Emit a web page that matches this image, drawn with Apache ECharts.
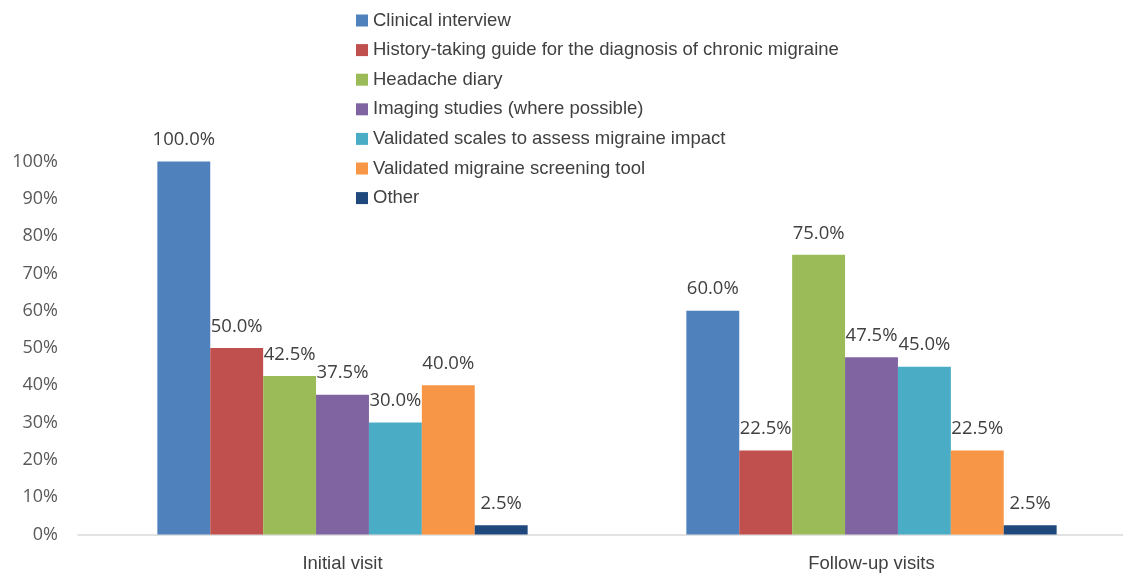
<!DOCTYPE html>
<html>
<head>
<meta charset="utf-8">
<script src="https://cdn.jsdelivr.net/npm/echarts@6/dist/echarts.min.js"></script>
<style>html,body{margin:0;padding:0;background:#fff}#c{width:1123px;height:573px}</style>
</head>
<body>
<div id="c"></div>
<script>
const categories = ['Initial visit', 'Follow-up visits'];
const seriesNames = [
  'Clinical interview',
  'History-taking guide for the diagnosis of chronic migraine',
  'Headache diary',
  'Imaging studies (where possible)',
  'Validated scales to assess migraine impact',
  'Validated migraine screening tool',
  'Other'
];
const clinicalInterview = [100.0, 60.0];
const historyGuide = [50.0, 22.5];
const headacheDiary = [42.5, 75.0];
const imagingStudies = [37.5, 47.5];
const validatedScales = [30.0, 45.0];
const screeningTool = [40.0, 22.5];
const other = [2.5, 2.5];
const yTicks = [0, 10, 20, 30, 40, 50, 60, 70, 80, 90, 100];

const values = [clinicalInterview, historyGuide, headacheDiary, imagingStudies, validatedScales, screeningTool, other];
const colors = ['#4F81BD', '#C0504D', '#9BBB59', '#8064A2', '#4BACC6', '#F79646', '#1F497D'];

const chart = echarts.init(document.getElementById('c'));
chart.setOption({
  animation: false,
  color: colors,
  legend: {
    orient: 'vertical',
    left: 351,
    top: 6,
    itemWidth: 12,
    itemHeight: 12,
    itemGap: 10.6,
    icon: 'rect',
    textStyle: { fontFamily: 'Liberation Sans', fontSize: 18.5, color: '#404040' },
    data: seriesNames
  },
  grid: { left: 78, width: 1058, top: 161.5, bottom: 38.5, containLabel: false, outerBoundsMode: 'none' },
  xAxis: {
    type: 'category',
    data: categories,
    axisLine: { lineStyle: { color: '#D9D9D9', width: 1.5 } },
    axisTick: { show: false },
    axisLabel: { fontFamily: 'Liberation Sans', fontSize: 18.5, color: '#404040', margin: 20 }
  },
  yAxis: {
    type: 'value',
    min: 0, max: 100, interval: 10,
    axisLine: { show: false },
    axisTick: { show: false },
    splitLine: { show: false },
    axisLabel: {
      fontFamily: 'Open Sans', fontSize: 18, color: '#595959', margin: 20,
      formatter: v => yTicks.includes(v) ? v + '%' : ''
    }
  },
  series: seriesNames.map((name, i) => ({
    name: name,
    type: 'bar',
    data: values[i],
    barGap: '0%',
    barCategoryGap: '30%',
    label: {
      show: true,
      position: 'top',
      distance: 12,
      fontFamily: 'Open Sans',
      fontSize: 18.5,
      color: '#404040',
      formatter: p => p.value.toFixed(1) + '%'
    }
  }))
});
</script>
</body>
</html>
